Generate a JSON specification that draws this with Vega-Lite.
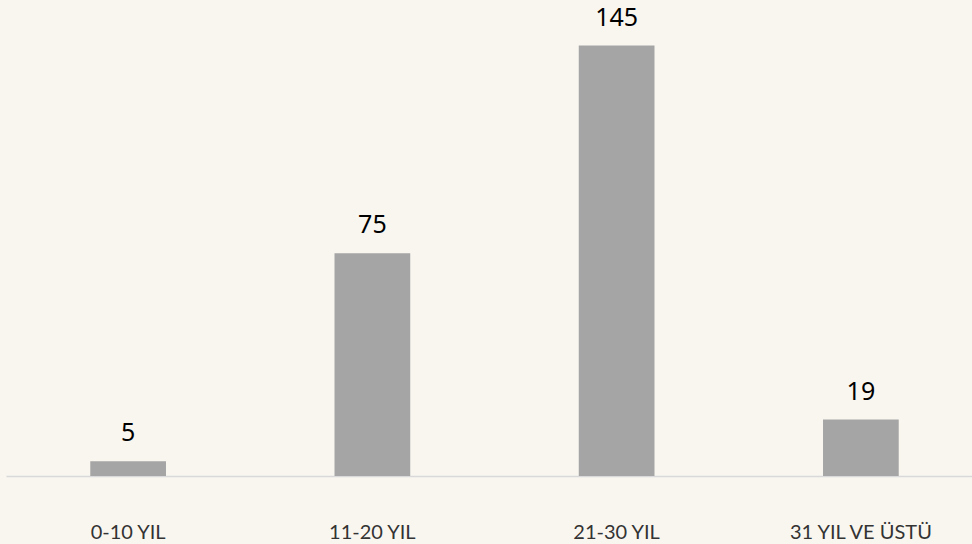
{
  "$schema": "https://vega.github.io/schema/vega-lite/v6.json",
  "width": 977,
  "height": 475,
  "autosize": {"type": "none"},
  "padding": {"left": 6, "top": 1, "right": 0, "bottom": 68},
  "background": "#f9f6f0",
  "config": {"view": {"stroke": null}},
  "data": {"values": [
    {"grup": "0-10 YIL", "sayi": 5},
    {"grup": "11-20 YIL", "sayi": 75},
    {"grup": "21-30 YIL", "sayi": 145},
    {"grup": "31 YIL VE ÜSTÜ", "sayi": 19}
  ]},
  "encoding": {
    "x": {"field": "grup", "type": "nominal", "sort": null,
      "scale": {"paddingInner": 0.69, "paddingOuter": 0.345},
      "axis": {"title": null, "ticks": false, "domainColor": "#d9d9d9", "domainWidth": 1.5,
        "labelFont": "Lato", "labelFontSize": 20, "labelFontWeight": 400,
        "labelColor": "#333333", "labelAngle": 0, "labelBaseline": "alphabetic", "labelPadding": 62}},
    "y": {"field": "sayi", "type": "quantitative", "scale": {"domain": [0, 160], "nice": false}, "axis": null}
  },
  "layer": [
    {"mark": {"type": "bar", "color": "#a5a5a5"}},
    {"mark": {"type": "text", "baseline": "alphabetic", "dy": -20, "font": "Noto Sans", "fontSize": 25, "color": "#000000"},
     "encoding": {"text": {"field": "sayi", "type": "quantitative"}}}
  ]
}
